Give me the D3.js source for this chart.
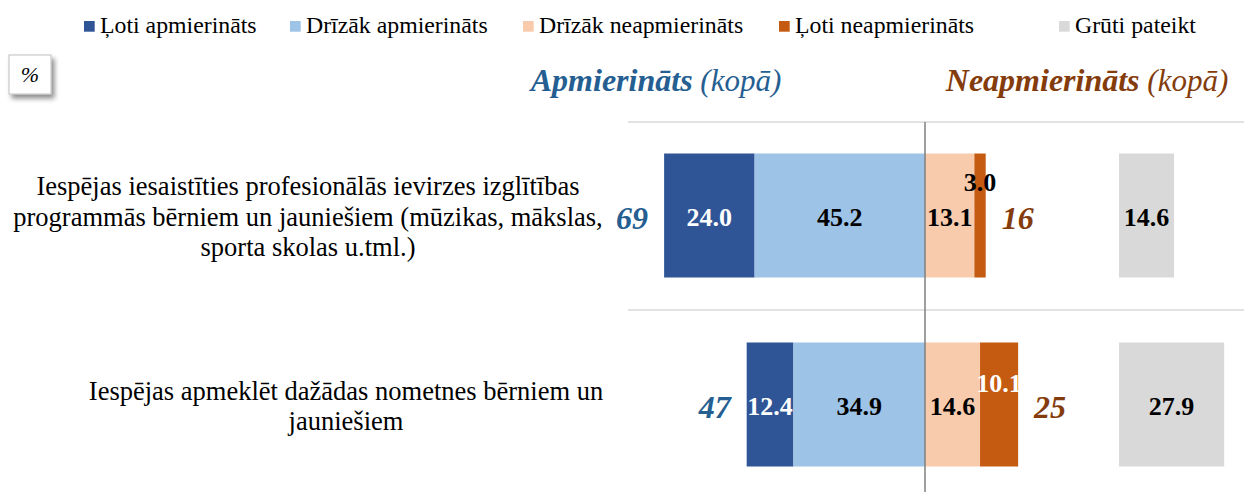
<!DOCTYPE html>
<meta charset="utf-8">
<style>
  body { margin: 0; background: #fff; }
  svg { display: block; font-family: "Liberation Serif", "Times New Roman", serif; }
</style>
<svg width="1244" height="492"></svg>
<script src="https://d3js.org/d3.v7.min.js"></script>
<script>
// data
const categories = [
  ["Iespējas iesaistīties profesionālās ievirzes izglītības", "programmās bērniem un jauniešiem (mūzikas, mākslas,", "sporta skolas u.tml.)"],
  ["Iespējas apmeklēt dažādas nometnes bērniem un", "jauniešiem"]
];
const seriesNames = ["Ļoti apmierināts", "Drīzāk apmierināts", "Drīzāk neapmierināts", "Ļoti neapmierināts", "Grūti pateikt"];
const lotiApm = [24.0, 12.4];
const drizakApm = [45.2, 34.9];
const drizakNeapm = [13.1, 14.6];
const lotiNeapm = [3.0, 10.1];
const grutiPateikt = [14.6, 27.9];
const apmTotal = [69, 47];
const neapmTotal = [16, 25];

const colors = ["#2f5597", "#9dc3e6", "#f8cbad", "#c55a11", "#d9d9d9"];
const labelColors = ["#fff", "#000", "#000", "#fff", "#000"];

const svg = d3.select("svg");
const defs = svg.append("defs");
const sh = defs.append("filter").attr("id", "shadow").attr("x", "-30%").attr("y", "-30%").attr("width", "170%").attr("height", "170%");
sh.append("feDropShadow").attr("dx", 3).attr("dy", 4).attr("stdDeviation", 2.5).attr("flood-color", "#000").attr("flood-opacity", 0.45);

const x = d3.scaleLinear().domain([0, 100]).range([925, 925 + 377]);
const xg = d3.scaleLinear().domain([0, 100]).range([1119, 1119 + 377]);
const y = d3.scalePoint().domain(d3.range(categories.length)).range([215.5, 404.5]);
const barH = 124;

// legend
const legX = [84, 290, 523, 779, 1059];
const leg = svg.append("g").selectAll("g").data(seriesNames).join("g")
  .attr("transform", (d, i) => `translate(${legX[i]},0)`);
leg.append("rect").attr("x", 0).attr("y", 21).attr("width", 10.7).attr("height", 10.7)
  .attr("fill", (d, i) => colors[i]);
leg.append("text").attr("x", 16).attr("y", 33).attr("font-size", 23.8).text(d => d);

// % box
svg.append("rect").attr("x", 9).attr("y", 55).attr("width", 42).attr("height", 39)
  .attr("fill", "#fff").attr("stroke", "#bfbfbf").attr("filter", "url(#shadow)");
svg.append("text").attr("x", 30).attr("y", 82).attr("text-anchor", "middle")
  .attr("font-size", 22).attr("font-style", "italic").text("%");

// headers
const h1 = svg.append("text").attr("x", 656).attr("y", 91).attr("text-anchor", "middle")
  .attr("font-size", 32).attr("font-style", "italic").attr("fill", "#255e91");
h1.append("tspan").attr("font-weight", "bold").text("Apmierināts");
h1.append("tspan").attr("font-size", 31).text(" (kopā)");
const h2 = svg.append("text").attr("x", 1087).attr("y", 91).attr("text-anchor", "middle")
  .attr("font-size", 32).attr("font-style", "italic").attr("fill", "#843c0c");
h2.append("tspan").attr("font-weight", "bold").text("Neapmierināts");
h2.append("tspan").attr("font-size", 31).text(" (kopā)");

// separators
const sepY = [y(0) - 93.5, y(0) + 94.5];
svg.append("g").selectAll("line").data(sepY).join("line")
  .attr("x1", 628).attr("x2", 1244).attr("y1", d => d).attr("y2", d => d)
  .attr("stroke", "#d9d9d9").attr("stroke-width", 1.5);

// category labels
const catX = [308, 346];
categories.forEach((lines, i) => {
  const t = svg.append("text").attr("text-anchor", "middle").attr("font-size", 26.5);
  const n = lines.length;
  lines.forEach((l, j) => {
    t.append("tspan").attr("x", catX[i]).attr("y", y(i) + 1 + (j - (n - 1) / 2) * 30.5).attr("dy", "0.35em").text(l);
  });
});

// stacked segments
const segs = categories.flatMap((c, i) => {
  const out = [];
  let left = -(lotiApm[i] + drizakApm[i]);
  [[lotiApm[i], 0], [drizakApm[i], 1], [drizakNeapm[i], 2], [lotiNeapm[i], 3]].forEach(([v, k]) => {
    out.push({ row: i, k: k, v: v, x0: left, x1: left + v });
    left += v;
  });
  return out;
});
svg.append("g").selectAll("rect").data(segs).join("rect")
  .attr("x", d => x(d.x0)).attr("width", d => x(d.x1) - x(d.x0))
  .attr("y", d => y(d.row) - barH / 2).attr("height", barH)
  .attr("fill", d => colors[d.k]);

// gray bars
svg.append("g").selectAll("rect").data(grutiPateikt).join("rect")
  .attr("x", xg(0)).attr("width", d => xg(d) - xg(0))
  .attr("y", (d, i) => y(i) - barH / 2).attr("height", barH).attr("fill", colors[4]);

// segment labels (the dark orange ones sit higher)
const lift = [35, 23.5];
svg.append("g").selectAll("text").data(segs).join("text")
  .attr("x", d => (x(d.x0) + x(d.x1)) / 2)
  .attr("y", d => y(d.row) + 1.5 - (d.k === 3 ? lift[d.row] : 0))
  .attr("dy", "0.35em").attr("text-anchor", "middle")
  .attr("font-size", 26).attr("font-weight", "bold")
  .attr("fill", d => (d.k === 3 && d.v < 5) ? "#000" : labelColors[d.k])
  .text(d => d.v.toFixed(1));
svg.append("g").selectAll("text").data(grutiPateikt).join("text")
  .attr("x", d => (xg(0) + xg(d)) / 2).attr("y", (d, i) => y(i) + 1.5).attr("dy", "0.35em")
  .attr("text-anchor", "middle").attr("font-size", 26).attr("font-weight", "bold").text(d => d.toFixed(1));

// center line
svg.append("line").attr("x1", x(0)).attr("x2", x(0)).attr("y1", sepY[0]).attr("y2", 492)
  .attr("stroke", "#7f7f7f").attr("stroke-width", 1.5);

// totals
svg.append("g").selectAll("text").data(apmTotal).join("text")
  .attr("x", (d, i) => x(-(lotiApm[i] + drizakApm[i])) - 16).attr("y", (d, i) => y(i) + 2)
  .attr("dy", "0.35em").attr("text-anchor", "end")
  .attr("font-size", 32).attr("font-weight", "bold").attr("font-style", "italic").attr("fill", "#255e91")
  .text(d => d);
svg.append("g").selectAll("text").data(neapmTotal).join("text")
  .attr("x", (d, i) => x(drizakNeapm[i] + lotiNeapm[i]) + 16).attr("y", (d, i) => y(i) + 2)
  .attr("dy", "0.35em").attr("text-anchor", "start")
  .attr("font-size", 32).attr("font-weight", "bold").attr("font-style", "italic").attr("fill", "#843c0c")
  .text(d => d);
</script>
